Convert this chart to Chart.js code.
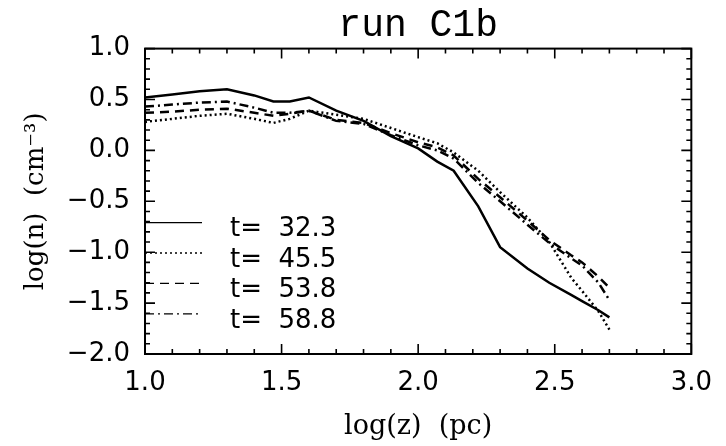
<!DOCTYPE html>
<html>
<head>
<meta charset="utf-8">
<script src="https://cdn.jsdelivr.net/npm/chart.js@4.4.1/dist/chart.umd.min.js"></script>
<style>
    body { margin: 0; background: #fff; }
</style>
</head>
<body>
<canvas id="myChart" width="726" height="446"></canvas>
<script>
// log(z) sample points, shared by all four runs
const logZ = [1.00, 1.10, 1.20, 1.30, 1.40, 1.47, 1.53, 1.60, 1.70, 1.80, 1.90, 2.00, 2.07, 2.13, 2.22, 2.30, 2.40, 2.48, 2.56, 2.60, 2.66, 2.70];

// log(n) for each time
const nT323 = [0.52, 0.55, 0.58, 0.60, 0.54, 0.48, 0.48, 0.52, 0.39, 0.29, 0.14, 0.02, -0.11, -0.20, -0.55, -0.95, -1.16, -1.30, -1.42, -1.48, -1.57, -1.64];
const nT455 = [0.28, 0.31, 0.34, 0.36, 0.31, 0.27, 0.31, 0.39, 0.35, 0.31, 0.22, 0.13, 0.07, -0.02, -0.20, -0.41, -0.66, -0.90, -1.25, -1.38, -1.58, -1.76];
const nT538 = [0.37, 0.38, 0.40, 0.41, 0.37, 0.34, 0.36, 0.39, 0.30, 0.27, 0.17, 0.08, 0.03, -0.05, -0.28, -0.46, -0.69, -0.88, -1.03, -1.10, -1.24, -1.35];
const nT588 = [0.43, 0.45, 0.47, 0.48, 0.42, 0.37, 0.37, 0.39, 0.29, 0.26, 0.15, 0.05, 0.00, -0.08, -0.32, -0.50, -0.73, -0.91, -1.06, -1.13, -1.30, -1.47];

const timeLabels = ['t=  32.3', 't=  45.5', 't=  53.8', 't=  58.8'];
const xTickValues = [1.0, 1.5, 2.0, 2.5, 3.0];
const yTickValues = [-2.0, -1.5, -1.0, -0.5, 0.0, 0.5, 1.0];

const lineDashes = [[], [2, 3], [9, 6], [9, 4, 2, 4]];
const seriesValues = [nT323, nT455, nT538, nT588];

const fmt = v => v.toFixed(1).replace('-', '\u2212');

// IDL-like frame: box, inward ticks on all sides, legend in lower left
const idlFrame = {
    id: 'idlFrame',
    afterDatasetsDraw(chart) {
        const { ctx, chartArea: a, scales: { x, y } } = chart;
        ctx.save();
        ctx.strokeStyle = '#000';
        ctx.lineWidth = 2;
        ctx.strokeRect(a.left, a.top, a.right - a.left, a.bottom - a.top);

        ctx.lineWidth = 1.6;
        ctx.beginPath();
        for (let i = 0; i <= 20; i++) {
            const px = x.getPixelForValue(1 + i * 0.1);
            const len = i % 5 === 0 ? 10 : 5;
            ctx.moveTo(px, a.bottom); ctx.lineTo(px, a.bottom - len);
            ctx.moveTo(px, a.top); ctx.lineTo(px, a.top + len);
        }
        for (let i = 0; i <= 30; i++) {
            const py = y.getPixelForValue(-2 + i * 0.1);
            const len = i % 5 === 0 ? 10 : 5;
            ctx.moveTo(a.left, py); ctx.lineTo(a.left + len, py);
            ctx.moveTo(a.right, py); ctx.lineTo(a.right - len, py);
        }
        ctx.stroke();

        // legend
        ctx.font = '26px "DejaVu Sans"';
        ctx.fillStyle = '#000';
        ctx.textBaseline = 'middle';
        chart.data.datasets.forEach((ds, i) => {
            const ly = a.top + 174 + i * 30.4;
            ctx.lineWidth = 1.3;
            ctx.setLineDash(ds.borderDash);
            ctx.beginPath();
            ctx.moveTo(a.left, ly);
            ctx.lineTo(a.left + 57, ly);
            ctx.stroke();
            ctx.setLineDash([]);
            ctx.fillText(ds.label, a.left + 85, ly + 7);
        });
        ctx.restore();
    }
};

new Chart('myChart', {
    type: 'line',
    data: {
        datasets: seriesValues.map((vals, i) => ({
            label: timeLabels[i],
            data: logZ.map((z, j) => ({ x: z, y: vals[j] })),
            borderColor: '#000',
            borderWidth: 2.5,
            borderDash: lineDashes[i],
            pointRadius: 0,
            tension: 0,
            fill: false
        }))
    },
    options: {
        responsive: false,
        animation: false,
        layout: { padding: { left: 0, right: 23, top: 0, bottom: 0 } },
        plugins: {
            legend: { display: false },
            tooltip: { enabled: false },
            title: {
                display: true,
                text: 'run C1b',
                fullSize: false,
                color: '#000',
                font: { family: 'Liberation Mono', size: 38, weight: 'normal' },
                padding: { top: 3, bottom: 0 }
            }
        },
        scales: {
            x: {
                type: 'linear',
                min: 1,
                max: 3,
                afterFit: s => { s.height = 92; },
                afterBuildTicks: s => { s.ticks = xTickValues.map(v => ({ value: v })); },
                grid: { display: false, drawTicks: false },
                border: { display: false },
                ticks: {
                    color: '#000',
                    padding: 14,
                    maxRotation: 0,
                    font: { family: 'DejaVu Sans', size: 26 },
                    callback: v => fmt(v)
                },
                title: {
                    display: true,
                    text: 'log(z)  (pc)',
                    color: '#000',
                    font: { family: 'DejaVu Serif', size: 27 },
                    padding: { top: 0, bottom: 3 }
                }
            },
            y: {
                type: 'linear',
                min: -2,
                max: 1,
                afterFit: s => { s.width = 145; },
                afterBuildTicks: s => { s.ticks = yTickValues.map(v => ({ value: v })); },
                grid: { display: false, drawTicks: false },
                border: { display: false },
                ticks: {
                    color: '#000',
                    padding: 15,
                    font: { family: 'DejaVu Sans', size: 26 },
                    callback: v => fmt(v)
                },
                title: {
                    display: true,
                    text: 'log(n)  (cm\u207B\u00B3)',
                    color: '#000',
                    font: { family: 'DejaVu Serif', size: 26 },
                    padding: { top: 21, bottom: 0 }
                }
            }
        }
    },
    plugins: [idlFrame]
});
</script>
</body>
</html>
